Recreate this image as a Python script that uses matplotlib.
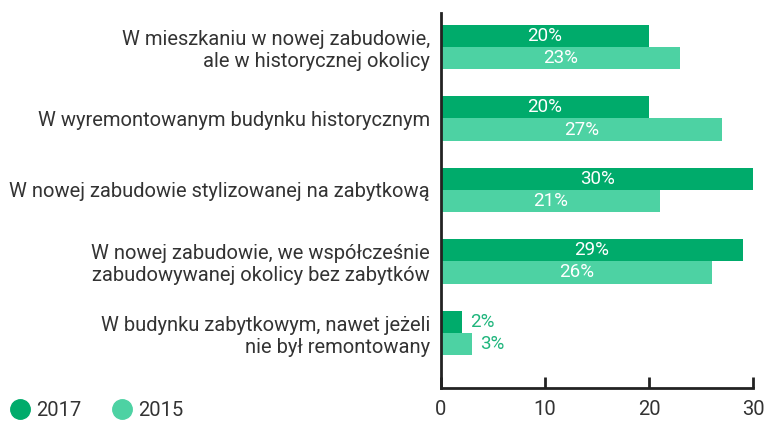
import numpy as np
import matplotlib.pyplot as plt
from matplotlib.lines import Line2D

plt.rcParams['font.family'] = ['Roboto', 'DejaVu Sans']

categories = [
    "W mieszkaniu w nowej zabudowie,\nale w historycznej okolicy",
    "W wyremontowanym budynku historycznym",
    "W nowej zabudowie stylizowanej na zabytkową",
    "W nowej zabudowie, we współcześnie\nzabudowywanej okolicy bez zabytków",
    "W budynku zabytkowym, nawet jeżeli\nnie był remontowany",
]
v2017 = [20, 20, 30, 29, 2]
v2015 = [23, 27, 21, 26, 3]
series = ["2017", "2015"]
colors = ["#00ab6b", "#4dd2a3"]
text_col = "#333333"

fig = plt.figure(figsize=(7.67, 4.22), dpi=100)
ax = fig.add_axes([0.575, 0.081, 0.407, 0.888])

y = np.arange(len(categories))
h = 0.31
b1 = ax.barh(y - h / 2, v2017, height=h, color=colors[0])
b2 = ax.barh(y + h / 2, v2015, height=h, color=colors[1])

for bars, vals in [(b1, v2017), (b2, v2015)]:
    for bar, v in zip(bars, vals):
        cy = bar.get_y() + bar.get_height() / 2
        if v >= 5:
            ax.text(v / 2, cy, f"{v}%", ha="center", va="center",
                    color="white", fontsize=13.5)
        else:
            ax.text(v + 0.8, cy, f"{v}%", ha="left", va="center",
                    color="#1fb57c", fontsize=13.5)

ax.set_xlim(0, 30)
ax.set_ylim(4.77, -0.475)
ax.set_xticks([0, 10, 20, 30])
ax.set_yticks(y)
ax.set_yticklabels(categories, fontsize=14.5, color=text_col, ha="right",
                   multialignment="right")
ax.tick_params(axis="y", length=0, pad=8)
ax.tick_params(axis="x", direction="in", length=8, width=2, color="#222222",
               labelsize=14.5, labelcolor=text_col, pad=9)
for s in ["top", "right"]:
    ax.spines[s].set_visible(False)
for s in ["left", "bottom"]:
    ax.spines[s].set_linewidth(2)
    ax.spines[s].set_color("#222222")

handles = [Line2D([], [], marker="o", ls="", markersize=14, color=c) for c in colors]
leg = fig.legend(handles, series, loc="lower left", bbox_to_anchor=(0.0125, 0.004),
                 ncol=2, frameon=False, fontsize=14.5, handletextpad=0.32,
                 columnspacing=1.5, labelcolor=text_col, handlelength=1.0,
                 borderpad=0, borderaxespad=0)

fig.savefig("out.png", dpi=100)
